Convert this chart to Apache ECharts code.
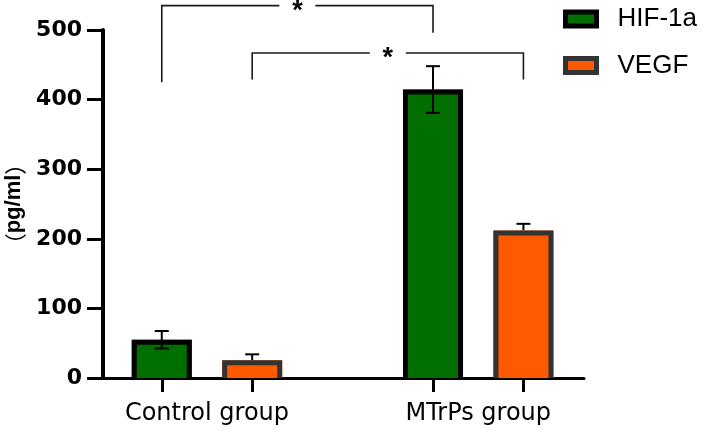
<!DOCTYPE html>
<html>
<head>
<meta charset="utf-8">
<script src="https://cdn.jsdelivr.net/npm/echarts@6/dist/echarts.min.js"></script>
<style>html,body{margin:0;padding:0;background:#fff}#c{width:703px;height:431px}</style>
</head>
<body>
<div id="c"></div>
<script>
// ---- data ----
const categories = ['Control group', 'MTrPs group'];
const seriesNames = ['HIF-1a', 'VEGF'];
const hifMean = [55, 414.5];
const hifSD = [12.5, 33.5];
const vegfMean = [25.5, 212];
const vegfSD = [8.5, 9.5];
const yMin = 0, yMax = 500, yStep = 100;
const yUnit = 'pg/ml';
// significance brackets: [fromSlot, toSlot, topLevel, leftFootLevel, rightFootLevel, mark]
const brackets = [
  [0, 3, 535, 425, 496, '*'],
  [1, 4, 467, 429, 429, '*']
];

// ---- layout helpers ----
const slotOf = (g, s) => g * 3 + s;       // each group occupies slots, with an empty slot between groups
const hifColor = '#006f00', vegfColor = '#ff5a00';
const hifBorder = '#000000', vegfBorder = '#333333';

const hifBars = categories.map((c, g) => [slotOf(g, 0), hifMean[g]]);
const vegfBars = categories.map((c, g) => [slotOf(g, 1), vegfMean[g]]);
const hifErr = categories.map((c, g) => [slotOf(g, 0), hifMean[g], hifSD[g], 1]);
const vegfErr = categories.map((c, g) => [slotOf(g, 1), vegfMean[g], vegfSD[g], 0]);
const tickSlots = [];
categories.forEach((c, g) => { tickSlots.push(slotOf(g, 0), slotOf(g, 1)); });
const labelSlots = categories.map((c, g) => slotOf(g, 0) + 0.5);

function barRenderer(fill, stroke, bw) {
  return function (params, api) {
    const x = api.value(0), v = api.value(1);
    const p = api.coord([x, v]);
    const b = api.coord([x, 0]);
    const w = api.size([1, 0])[0] * 0.664;
    const l = p[0] - w / 2, r = p[0] + w / 2;
    return {
      type: 'group',
      children: [
        { type: 'rect', shape: { x: l, y: p[1], width: w, height: b[1] - p[1] }, style: { fill: fill } },
        { type: 'polyline', shape: { points: [[l + bw / 2, b[1]], [l + bw / 2, p[1] + bw / 2], [r - bw / 2, p[1] + bw / 2], [r - bw / 2, b[1]]] },
          style: { stroke: stroke, lineWidth: bw, fill: null, lineJoin: 'miter' } }
      ]
    };
  };
}

function errRenderer(params, api) {
  const x = api.value(0), m = api.value(1), sd = api.value(2), both = api.value(3);
  const t = api.coord([x, m + sd]);
  const btm = api.coord([x, both ? m - sd : m]);
  const cw = 7;
  const st = { stroke: '#000', lineWidth: 2 };
  const children = [
    { type: 'line', shape: { x1: t[0], y1: t[1], x2: btm[0], y2: btm[1] }, style: st },
    { type: 'line', shape: { x1: t[0] - cw, y1: t[1], x2: t[0] + cw, y2: t[1] }, style: st }
  ];
  if (both) children.push({ type: 'line', shape: { x1: btm[0] - cw, y1: btm[1], x2: btm[0] + cw, y2: btm[1] }, style: st });
  return { type: 'group', children: children };
}

function bracketRenderer(params, api) {
  const x1 = api.value(0), x2 = api.value(1), yt = api.value(2), yl = api.value(3), yr = api.value(4);
  const mark = brackets[params.dataIndex][5];
  const a = api.coord([x1, yl]), at = api.coord([x1, yt]);
  const b = api.coord([x2, yr]), bt = api.coord([x2, yt]);
  const mid = (at[0] + bt[0]) / 2, gap = 18;
  const st = { stroke: '#1a1a1a', lineWidth: 1.6, fill: null };
  return {
    type: 'group',
    children: [
      { type: 'polyline', shape: { points: [[a[0], a[1]], [at[0], at[1]], [mid - gap, at[1]]] }, style: st },
      { type: 'polyline', shape: { points: [[mid + gap, bt[1]], [bt[0], bt[1]], [b[0], b[1]]] }, style: st },
      { type: 'text', x: mid, y: at[1] + 6, style: { text: mark, fill: '#000', font: 'bold 27px "Liberation Sans"', align: 'center', verticalAlign: 'middle' } }
    ]
  };
}

const chart = echarts.init(document.getElementById('c'), null, { renderer: 'canvas' });
chart.setOption({
  animation: false,
  backgroundColor: '#fff',
  grid: { left: 103, right: 119, top: 30, bottom: 53, outerBoundsMode: 'none' },
  legend: {
    orient: 'vertical', left: 558, top: 0, icon: 'rect',
    itemWidth: 31, itemHeight: 14, itemGap: 18.5,
    textStyle: { fontFamily: 'Liberation Sans', fontSize: 26, color: '#000', lineHeight: 28, padding: [0, 0, 0, 16] },
    data: [
      { name: seriesNames[0], itemStyle: { color: hifColor, borderColor: hifBorder, borderWidth: 5 } },
      { name: seriesNames[1], itemStyle: { color: vegfColor, borderColor: vegfBorder, borderWidth: 5 } }
    ]
  },
  xAxis: {
    type: 'value', min: -0.65, max: 4.67,
    splitLine: { show: false },
    axisLine: { show: true, onZero: false, lineStyle: { color: '#000', width: 3 } },
    axisTick: { show: true, customValues: tickSlots, length: 14, lineStyle: { color: '#000', width: 3 } },
    axisLabel: {
      customValues: labelSlots, margin: 24,
      formatter: v => categories[Math.round((v - 0.5) / 3)],
      fontFamily: 'DejaVu Sans', fontSize: 24, color: '#000'
    }
  },
  yAxis: {
    type: 'value', min: yMin, max: yMax, interval: yStep,
    name: '{p|（}' + yUnit + '{p|）}', nameLocation: 'middle', nameGap: 74,
    nameTextStyle: {
      fontFamily: 'Liberation Sans', fontWeight: 'bold', fontSize: 22, color: '#000',
      rich: { p: { fontFamily: 'Noto Sans CJK SC', fontWeight: 'normal', fontSize: 22, color: '#000' } }
    },
    splitLine: { show: false },
    axisLine: { show: true, onZero: false, lineStyle: { color: '#000', width: 4 } },
    axisTick: { show: true, length: 16, lineStyle: { color: '#000', width: 3 } },
    axisLabel: { margin: 21, fontFamily: 'DejaVu Sans', fontWeight: 'bold', fontSize: 22, color: '#000', padding: [5, 0, 0, 0] }
  },
  series: [
    { type: 'custom', name: 'VEGF err', z: 1, renderItem: errRenderer, data: vegfErr, silent: true },
    { type: 'custom', name: seriesNames[0], z: 2, renderItem: barRenderer(hifColor, hifBorder, 5), data: hifBars,
      itemStyle: { color: hifColor, borderColor: hifBorder, borderWidth: 5 } },
    { type: 'custom', name: seriesNames[1], z: 2, renderItem: barRenderer(vegfColor, vegfBorder, 5), data: vegfBars,
      itemStyle: { color: vegfColor, borderColor: vegfBorder, borderWidth: 5 } },
    { type: 'custom', name: 'HIF err', z: 3, renderItem: errRenderer, data: hifErr, silent: true },
    { type: 'custom', name: 'sig', z: 4, clip: false, renderItem: bracketRenderer, data: brackets.map(b => b.slice(0, 5)), silent: true }
  ]
});
</script>
</body>
</html>
